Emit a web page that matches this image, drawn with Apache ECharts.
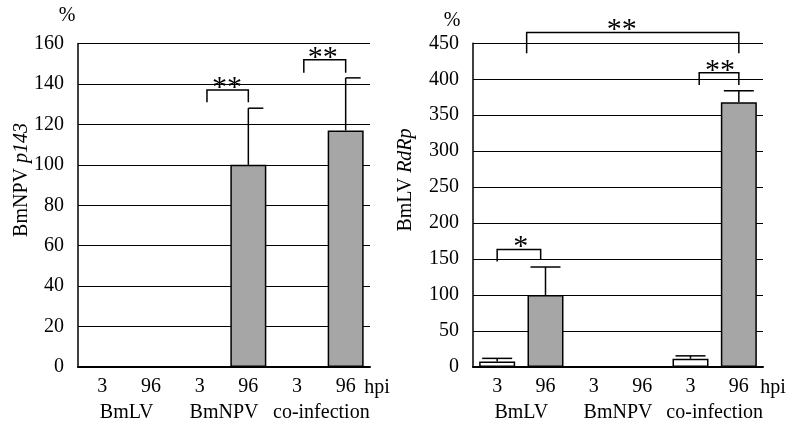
<!DOCTYPE html>
<html><head><meta charset="utf-8">
<script src="https://cdn.jsdelivr.net/npm/echarts@6/dist/echarts.min.js"></script>
<style>html,body{margin:0;padding:0;background:#fff}#c{width:799px;height:426px}</style>
</head><body><div id="c"></div>
<script>
// ---- data ----
const hpiLabels = ['3', '96', '3', '96', '3', '96'];
const groups = ['BmLV', 'BmNPV', 'co-infection'];
const p143Values = [0, 0, 0, 100, 0, 117];
const p143ErrTop = [null, null, null, 128, null, 143];
const rdrpValues = [7.5, 100, 0, 0, 11.5, 368];
const rdrpErrTop = [12, 139, null, null, 15.5, 384];
const p143Axis = { min: 0, max: 160, interval: 20 };
const rdrpAxis = { min: 0, max: 450, interval: 50 };
// significance brackets: [startCat, endCat, top, leftLegEnd, rightLegEnd, labelCat]
const p143Brackets = [[2.15, 3.0, 137, 131, 131, 2.56], [4.14, 5.0, 152, 145.5, 145.5, 4.53]];
const p143BracketLabels = ['**', '**'];
const rdrpBrackets = [[0.61, 5.0, 465, 436, 436, 2.58], [4.18, 5.0, 409, 392, 392, 4.61], [0, 0.9, 163.5, 146.5, 149, 0.49]];
const rdrpBracketLabels = ['**', '**', '*'];

const FONT = 'Liberation Serif';
const chart = echarts.init(document.getElementById('c'), null, { renderer: 'canvas' });

function bandX(api, f, v) {
  const i = Math.floor(f + 1e-9);
  const c = api.coord([i, v]);
  return c[0] + (f - i) * api.size([1, 0])[0];
}
function errRender(capL, capR) {
  return function (params, api) {
    const i = api.value(0), top = api.value(1), base = api.value(2);
    const p0 = api.coord([i, base]);
    const p1 = api.coord([i, top]);
    return { type: 'group', children: [
      { type: 'line', shape: { x1: p0[0], y1: p0[1], x2: p1[0], y2: p1[1] }, style: { stroke: '#000', lineWidth: 1.5 } },
      { type: 'line', shape: { x1: p1[0] - capL, y1: p1[1], x2: p1[0] + capR, y2: p1[1] }, style: { stroke: '#000', lineWidth: 1.5 } }
    ] };
  };
}
function bracketRender(labels) {
  return function (params, api) {
    const x1 = bandX(api, api.value(0), 0), x2 = bandX(api, api.value(1), 0);
    const yTop = api.coord([0, api.value(2)])[1];
    const yL = api.coord([0, api.value(3)])[1];
    const yR = api.coord([0, api.value(4)])[1];
    const lx = bandX(api, api.value(5), 0);
    return { type: 'group', children: [
      { type: 'polyline', shape: { points: [[x1, yL], [x1, yTop], [x2, yTop], [x2, yR]] }, style: { stroke: '#000', lineWidth: 1.5, fill: null } },
      { type: 'text', x: lx, y: yTop - 2, style: { text: labels[params.dataIndex], fontFamily: FONT, fontSize: 30, fill: '#000', align: 'center', verticalAlign: 'middle' } }
    ] };
  };
}
function errData(vals, tops) {
  const out = [];
  tops.forEach((t, i) => { if (t != null) out.push([i, t, vals[i]]); });
  return out;
}

const grids = [
  { left: 78, top: 43.5, width: 292, height: 323.5 },
  { left: 473, top: 43.3, width: 290, height: 323.7 }
];
const xAxes = [], yAxes = [], series = [];
[[p143Axis, p143Values, p143ErrTop, p143Brackets, p143BracketLabels, 0, 15],
 [rdrpAxis, rdrpValues, rdrpErrTop, rdrpBrackets, rdrpBracketLabels, 15, 15]].forEach((cfg, g) => {
  const [ax, vals, tops, br, brl, capL, capR] = cfg;
  xAxes.push({ gridIndex: g, type: 'category', data: hpiLabels, position: 'bottom',
    axisLine: { lineStyle: { color: '#000', width: 2 } }, axisTick: { show: false },
    axisLabel: { interval: 0, fontFamily: FONT, fontSize: 20, color: '#000', margin: 10 } });
  xAxes.push({ gridIndex: g, type: 'category', data: groups, position: 'bottom',
    axisLine: { show: false }, axisTick: { show: false },
    axisLabel: { interval: 0, hideOverlap: false, fontFamily: FONT, fontSize: 20, color: '#000', margin: 36 } });
  yAxes.push({ gridIndex: g, type: 'value', min: ax.min, max: ax.max, interval: ax.interval,
    axisLine: { show: true, lineStyle: { color: '#000', width: 1.5 } }, axisTick: { show: false },
    splitLine: { show: true, lineStyle: { color: '#000', width: 1 } },
    axisLabel: { fontFamily: FONT, fontSize: 20, color: '#000', margin: 14 } });
  series.push({ type: 'bar', xAxisIndex: g * 2, yAxisIndex: g, data: vals, barWidth: 36,
    itemStyle: { color: p => (p.dataIndex % 2 === 0 ? '#ffffff' : '#a6a6a6'), borderColor: '#000', borderWidth: 1.5 },
    z: 3, silent: true });
  series.push({ type: 'custom', xAxisIndex: g * 2, yAxisIndex: g, data: errData(vals, tops),
    renderItem: errRender(capL, capR), z: 4, silent: true });
  series.push({ type: 'custom', xAxisIndex: g * 2, yAxisIndex: g, data: br,
    renderItem: bracketRender(brl), z: 5, silent: true, clip: false });
});

const txt = (x, y, text, extra) => ({ type: 'text', x, y, style: Object.assign({ text, fontFamily: FONT, fontSize: 20, fill: '#000', align: 'center', verticalAlign: 'middle' }, extra || {}) });

chart.setOption({
  animation: false,
  grid: grids,
  xAxis: xAxes,
  yAxis: yAxes,
  series: series,
  graphic: [
    txt(67, 16, '%'),
    txt(452, 21, '%'),
    txt(377, 388, 'hpi'),
    txt(773, 388, 'hpi'),
    { type: 'text', x: 22, y: 180, rotation: Math.PI / 2,
      style: { text: '{a|BmNPV }{b|p143}', align: 'center', verticalAlign: 'middle', fill: '#000',
        rich: { a: { fontFamily: FONT, fontSize: 20, fill: '#000' }, b: { fontFamily: FONT, fontSize: 20, fontStyle: 'italic', fill: '#000' } } } },
    { type: 'text', x: 406, y: 180, rotation: Math.PI / 2,
      style: { text: '{a|BmLV }{b|RdRp}', align: 'center', verticalAlign: 'middle', fill: '#000',
        rich: { a: { fontFamily: FONT, fontSize: 20, fill: '#000' }, b: { fontFamily: FONT, fontSize: 20, fontStyle: 'italic', fill: '#000' } } } }
  ]
});
</script>
</body></html>
